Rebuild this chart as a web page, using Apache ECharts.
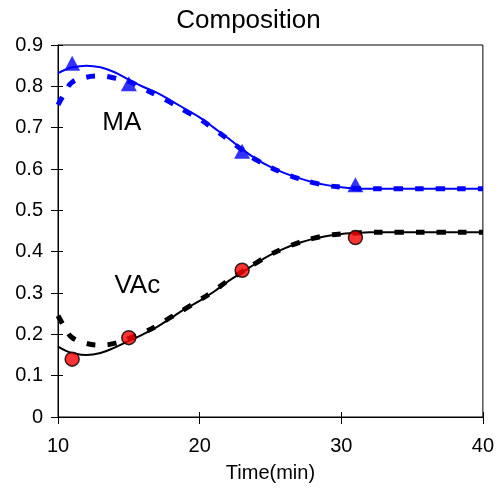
<!DOCTYPE html>
<html>
<head>
<meta charset="utf-8">
<script src="https://cdn.jsdelivr.net/npm/echarts@6/dist/echarts.min.js"></script>
<style>html,body{margin:0;padding:0;background:#fff;}#c{width:497px;height:488px;}</style>
</head>
<body>
<div id="c"></div>
<script>
// Model time grid (min)
var tModel = [10,10.5,11,12,13,14,15,16,17,18,19,20,21,22,23,24,25,26,27,28,29,30,31,32,33,34,35,36,37,38,39,40];
// MA composition, model (solid) and model (dashed)
var maSolid = [0.832,0.840,0.846,0.850,0.846,0.834,0.816,0.799,0.784,0.765,0.745,0.725,0.700,0.675,0.648,0.624,0.605,0.590,0.578,0.568,0.561,0.556,0.553,0.552,0.552,0.552,0.552,0.552,0.552,0.552,0.552,0.552];
var maDashed = [0.755,0.785,0.810,0.822,0.825,0.820,0.812,0.795,0.778,0.760,0.740,0.721,0.697,0.672,0.646,0.622,0.604,0.589,0.577,0.567,0.560,0.556,0.553,0.552,0.552,0.552,0.552,0.552,0.552,0.552,0.552,0.552];
// VAc composition, model (solid) and model (dashed)
var vacSolid = [0.170,0.161,0.155,0.150,0.155,0.168,0.184,0.200,0.218,0.240,0.262,0.281,0.303,0.328,0.350,0.372,0.392,0.408,0.421,0.431,0.438,0.443,0.445,0.447,0.447,0.447,0.447,0.447,0.447,0.447,0.447,0.447];
var vacDashed = [0.245,0.215,0.192,0.178,0.174,0.178,0.190,0.204,0.221,0.242,0.262,0.283,0.305,0.330,0.352,0.373,0.393,0.409,0.422,0.432,0.439,0.443,0.445,0.447,0.447,0.447,0.447,0.447,0.447,0.447,0.447,0.447];
// Experimental points
var tExp = [11,15,23,31];
var maExp = [0.856,0.806,0.643,0.562];
var vacExp = [0.140,0.192,0.355,0.434];
// In-plot annotations
var annoText = ['MA','VAc'];
var annoT = [14.5,15.6];
var annoV = [0.712,0.318];
// Axis ticks
var xTicks = [10,20,30,40];
var yTicks = [0,0.1,0.2,0.3,0.4,0.5,0.6,0.7,0.8,0.9];

function pairs(xs, ys){ return xs.map(function(x,i){ return [x, ys[i]]; }); }

var FONT = "'Liberation Sans', Arial, sans-serif";
var chart = echarts.init(document.getElementById('c'), null, {renderer:'canvas'});
var xMin = xTicks[0], xMax = xTicks[xTicks.length-1], xInt = xTicks[1]-xTicks[0];
var yMin = yTicks[0], yMax = yTicks[yTicks.length-1], yInt = 0.1;

chart.setOption({
  animation:false,
  backgroundColor:'#fff',
  title:{text:'Composition', left:'center', top:3,
    textStyle:{fontFamily:FONT, fontSize:26, fontWeight:'normal', color:'#000'}},
  grid:{left:58, right:12, top:45, bottom:70, show:true, borderColor:'#000', borderWidth:1, backgroundColor:'transparent'},
  xAxis:[{
    type:'value', min:xMin, max:xMax, interval:xInt, position:'bottom',
    name:'Time(min)', nameLocation:'middle', nameGap:46,
    nameTextStyle:{fontFamily:FONT, fontSize:20, color:'#000'},
    axisLine:{show:true, lineStyle:{color:'#000', width:1}},
    axisTick:{show:true, inside:false, length:7, lineStyle:{color:'#000'}},
    axisLabel:{fontFamily:FONT, fontSize:20, color:'#000', margin:19},
    splitLine:{show:false}
  },{
    type:'value', min:xMin, max:xMax, interval:xInt, position:'bottom',
    axisLine:{show:false}, axisLabel:{show:false}, splitLine:{show:false},
    axisTick:{show:true, inside:true, length:5, lineStyle:{color:'#000'}}
  }],
  yAxis:[{
    type:'value', min:yMin, max:yMax, interval:yInt, position:'left',
    axisLine:{show:true, lineStyle:{color:'#000', width:1}},
    axisTick:{show:true, inside:false, length:7, lineStyle:{color:'#000'}},
    axisLabel:{fontFamily:FONT, fontSize:20, color:'#000', margin:15,
      formatter:function(v){ return String(Math.round(v*10)/10); }},
    splitLine:{show:false}
  },{
    type:'value', min:yMin, max:yMax, interval:yInt, position:'left',
    axisLine:{show:false}, axisLabel:{show:false}, splitLine:{show:false},
    axisTick:{show:true, inside:true, length:5, lineStyle:{color:'#000'}}
  }],
  series:[
    {type:'line', name:'MA dashed', data:pairs(tModel, maDashed), smooth:0.4, showSymbol:false, symbol:'none',
      lineStyle:{color:'#0000FF', width:5, type:[9,12], cap:'butt'}, z:2},
    {type:'line', name:'VAc dashed', data:pairs(tModel, vacDashed), smooth:0.4, showSymbol:false, symbol:'none',
      lineStyle:{color:'#000', width:5, type:[9,12], cap:'butt'}, z:2},
    {type:'line', name:'MA model', data:pairs(tModel, maSolid), smooth:0.4, showSymbol:false, symbol:'none',
      lineStyle:{color:'#0000FF', width:2}, z:3},
    {type:'line', name:'VAc model', data:pairs(tModel, vacSolid), smooth:0.4, showSymbol:false, symbol:'none',
      lineStyle:{color:'#000', width:2}, z:3},
    {type:'scatter', name:'MA exp', data:pairs(tExp, maExp), symbol:'triangle', symbolSize:[16,15],
      itemStyle:{color:'#0000FF'}, z:5},
    {type:'scatter', name:'VAc exp', data:pairs(tExp, vacExp), symbol:'circle', symbolSize:14,
      itemStyle:{color:'#FF0000', borderColor:'#000', borderWidth:1.5}, z:5},
    {type:'scatter', name:'labels', symbolSize:1, silent:true,
      itemStyle:{color:'rgba(0,0,0,0)'},
      data:annoText.map(function(s,i){ return {value:[annoT[i], annoV[i]], name:s}; }),
      label:{show:true, position:'inside', formatter:'{b}', fontFamily:FONT, fontSize:26, color:'#000',
        textBorderWidth:0, textBorderColor:'transparent', opacity:1}, z:6}
  ]
});
</script>
</body>
</html>
